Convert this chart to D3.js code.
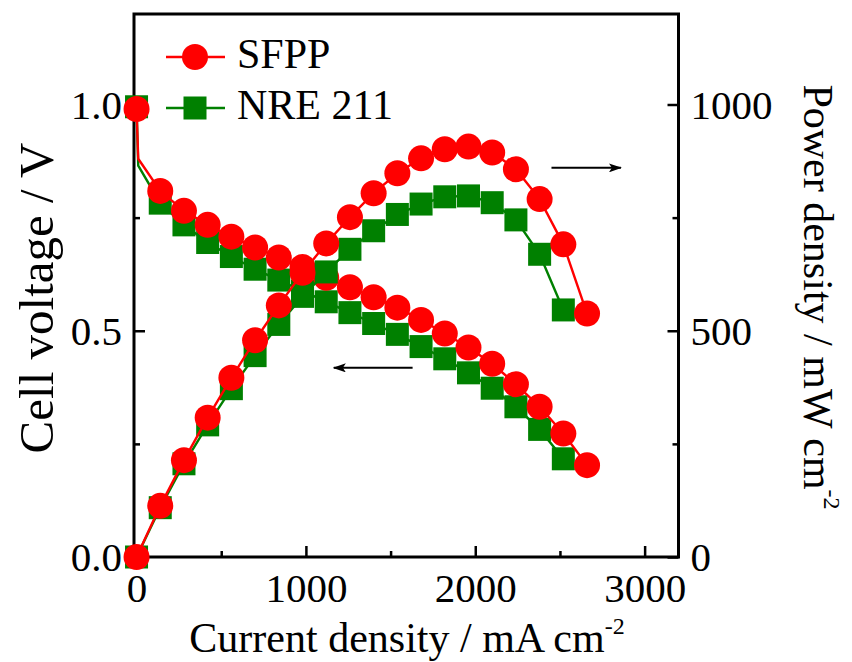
<!DOCTYPE html>
<html>
<head>
<meta charset="utf-8">
<script src="https://cdn.jsdelivr.net/npm/d3@7"></script>
<style>
  body { margin: 0; background: #fff; }
  svg { display: block; }
  text { font-family: "Liberation Serif", "Times New Roman", serif; fill: #000; }
</style>
</head>
<body>
<svg id="chart" width="852" height="662"></svg>
<script>
// Polarization and power-density data (current density in mA cm^-2)
const sfppCurrent = [0, 140, 280, 420, 560, 700, 840, 980, 1120, 1260, 1400, 1540, 1680, 1820, 1960, 2100, 2240, 2380, 2520, 2660];
const sfppVoltage = [0.99, 0.809, 0.765, 0.734, 0.708, 0.684, 0.662, 0.641, 0.617, 0.596, 0.574, 0.551, 0.524, 0.494, 0.463, 0.427, 0.382, 0.332, 0.273, 0.203];
const sfppPower   = [0, 113, 214, 308, 396, 479, 556, 628, 693, 751, 804, 848, 881, 901, 907, 894, 857, 791, 691, 538];

const nreCurrent = [0, 140, 280, 420, 560, 700, 840, 980, 1120, 1260, 1400, 1540, 1680, 1820, 1960, 2100, 2240, 2380, 2520];
const nreVoltage = [0.995, 0.782, 0.734, 0.695, 0.664, 0.636, 0.612, 0.588, 0.564, 0.540, 0.516, 0.492, 0.465, 0.438, 0.407, 0.373, 0.332, 0.282, 0.217];
const nrePower   = [0, 109, 206, 292, 372, 445, 514, 576, 630, 680, 721, 757, 780, 796, 798, 783, 745, 669, 546];

// Unmarked low-current reading that shapes the activation drop of each voltage line
const kneeCurrent = 10;
const sfppKneeVoltage = 0.88;
const nreKneeVoltage = 0.865;

// Axis ticks
const xMajor = [0, 1000, 2000, 3000];
const xMinor = [500, 1500, 2500];
const vMajor = [0, 0.5, 1.0];
const vMinor = [0.25, 0.75];
const pMajor = [0, 500, 1000];
const pMinor = [250, 750];

const RED = "#ff0000", GREEN = "#008000";

const svg = d3.select("#chart");
svg.append("rect").attr("width", 852).attr("height", 662).attr("fill", "#fff");

const L = 134, R = 678.5, T = 14, B = 557;
const x = d3.scaleLinear().domain([-15, 3200]).range([L, R]);
const yV = d3.scaleLinear().domain([0, 1.2]).range([B, T]);
const yP = d3.scaleLinear().domain([0, 1200]).range([B, T]);

// Axes with inward ticks
function styleAxis(g) {
  g.select(".domain").remove();
  g.selectAll(".tick line").attr("stroke", "#000").attr("stroke-width", 2.5);
}
const tickFont = 41;

const gx = svg.append("g").attr("transform", `translate(0,${B})`)
  .call(d3.axisBottom(x).tickValues(xMajor).tickSize(-11).tickFormat(d3.format("d")));
styleAxis(gx);
gx.selectAll(".tick text").attr("y", 45).attr("dy", 0).attr("font-size", tickFont).attr("font-family", null);
svg.append("g").attr("transform", `translate(0,${B})`)
  .call(d3.axisBottom(x).tickValues(xMinor).tickSize(-6).tickFormat(""))
  .call(styleAxis);

const gl = svg.append("g").attr("transform", `translate(${L},0)`)
  .call(d3.axisLeft(yV).tickValues(vMajor).tickSize(-11).tickFormat(d3.format(".1f")));
styleAxis(gl);
gl.selectAll(".tick text").attr("x", -12).attr("dy", "0.33em").attr("font-size", tickFont).attr("font-family", null);
svg.append("g").attr("transform", `translate(${L},0)`)
  .call(d3.axisLeft(yV).tickValues(vMinor).tickSize(-6).tickFormat(""))
  .call(styleAxis);

const gr = svg.append("g").attr("transform", `translate(${R},0)`)
  .call(d3.axisRight(yP).tickValues(pMajor).tickSize(-11).tickFormat(d3.format("d")));
styleAxis(gr);
gr.selectAll(".tick text").attr("x", 12).attr("dy", "0.33em").attr("font-size", tickFont).attr("font-family", null);
svg.append("g").attr("transform", `translate(${R},0)`)
  .call(d3.axisRight(yP).tickValues(pMinor).tickSize(-6).tickFormat(""))
  .call(styleAxis);

// Frame
svg.append("rect").attr("x", L).attr("y", T).attr("width", R - L).attr("height", B - T)
  .attr("fill", "none").attr("stroke", "#000").attr("stroke-width", 3);

// Series drawing helpers
const plot = svg.append("g");
function drawLine(pts, yScale, color) {
  plot.append("path").datum(pts)
    .attr("fill", "none").attr("stroke", color).attr("stroke-width", 2.4)
    .attr("d", d3.line().x(d => x(d[0])).y(d => yScale(d[1])));
}
function drawCircles(pts, yScale) {
  plot.append("g").selectAll("circle").data(pts).join("circle")
    .attr("cx", d => x(d[0])).attr("cy", d => yScale(d[1])).attr("r", 13)
    .attr("fill", RED);
}
function drawSquares(pts, yScale) {
  const s = 23;
  plot.append("g").selectAll("rect").data(pts).join("rect")
    .attr("x", d => x(d[0]) - s / 2).attr("y", d => yScale(d[1]) - s / 2)
    .attr("width", s).attr("height", s).attr("fill", GREEN);
}

const zip = (a, b) => a.map((v, i) => [v, b[i]]);
const sfppV = zip(sfppCurrent, sfppVoltage);
const sfppP = zip(sfppCurrent, sfppPower);
const nreV = zip(nreCurrent, nreVoltage);
const nreP = zip(nreCurrent, nrePower);
const withKnee = (pts, v) => [pts[0], [kneeCurrent, v], ...pts.slice(1)];

// NRE 211 voltage, SFPP voltage, NRE 211 power, SFPP power
drawLine(withKnee(nreV, nreKneeVoltage), yV, GREEN);
drawSquares(nreV, yV);
drawLine(withKnee(sfppV, sfppKneeVoltage), yV, RED);
drawCircles(sfppV, yV);
drawLine(nreP, yP, GREEN);
drawSquares(nreP, yP);
drawLine(sfppP, yP, RED);
drawCircles(sfppP, yP);

// Arrows pointing to the axis each curve group belongs to
const defs = svg.append("defs");
defs.append("marker").attr("id", "head").attr("viewBox", "0 0 13 9")
  .attr("refX", 12).attr("refY", 4.5).attr("markerWidth", 13).attr("markerHeight", 9)
  .attr("markerUnits", "userSpaceOnUse").attr("orient", "auto")
  .append("path").attr("d", "M0,0 L13,4.5 L0,9 L3,4.5 Z").attr("fill", "#000");

const arrows = [
  { from: [2450, 860], to: [2860, 860], scale: yP },
  { from: [1630, 0.418], to: [1165, 0.418], scale: yV }
];
arrows.forEach(a => {
  svg.append("line")
    .attr("x1", x(a.from[0])).attr("y1", a.scale(a.from[1]))
    .attr("x2", x(a.to[0])).attr("y2", a.scale(a.to[1]))
    .attr("stroke", "#000").attr("stroke-width", 2).attr("marker-end", "url(#head)");
});

// Legend
const legend = [
  { name: "SFPP", color: RED, shape: "circle", y: 57 },
  { name: "NRE 211", color: GREEN, shape: "square", y: 108 }
];
legend.forEach(d => {
  const g = svg.append("g");
  g.append("line").attr("x1", 166).attr("x2", 225).attr("y1", d.y).attr("y2", d.y)
    .attr("stroke", d.color).attr("stroke-width", 2.4);
  if (d.shape === "circle") {
    g.append("circle").attr("cx", 195).attr("cy", d.y).attr("r", 13).attr("fill", d.color);
  } else {
    g.append("rect").attr("x", 195 - 11.5).attr("y", d.y - 11.5).attr("width", 23).attr("height", 23).attr("fill", d.color);
  }
  g.append("text").attr("x", 237).attr("y", d.y + 11).attr("font-size", 42).text(d.name);
});

// Axis titles
svg.append("text").attr("transform", "translate(53,298) rotate(-90)")
  .attr("text-anchor", "middle").attr("font-size", 49).text("Cell voltage / V");

const xt = svg.append("text").attr("x", 407).attr("y", 652)
  .attr("text-anchor", "middle").attr("font-size", 42);
xt.append("tspan").text("Current density / mA cm");
xt.append("tspan").attr("dy", -18).attr("font-size", 24).text("-2");

const yt = svg.append("text").attr("transform", "translate(804,297) rotate(90)")
  .attr("text-anchor", "middle").attr("font-size", 42);
yt.append("tspan").text("Power density / mW cm");
yt.append("tspan").attr("dy", -20).attr("font-size", 24).text("-2");
</script>
</body>
</html>
